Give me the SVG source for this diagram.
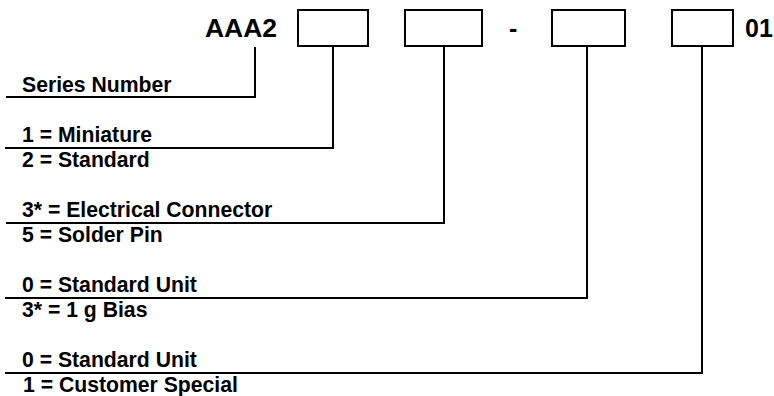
<svg xmlns="http://www.w3.org/2000/svg" width="774" height="396" viewBox="0 0 774 396">
<style>
.t{font-family:"Liberation Sans",Arial,sans-serif;font-weight:bold;fill:#000;}
.big{font-size:25px;}
.lbl{font-size:21.2px;}
.box{fill:none;stroke:#000;stroke-width:2;}
.con{fill:none;stroke:#000;stroke-width:2;stroke-linejoin:miter;stroke-linecap:square;}
</style>
<rect width="774" height="396" fill="#fff"/>
<g id="code">
<text class="t big" x="205" y="37" textLength="72" lengthAdjust="spacingAndGlyphs">AAA2</text>
<g id="box1"><rect class="box" x="298" y="10" width="70" height="36"/></g>
<g id="box2"><rect class="box" x="405" y="10" width="77" height="36"/></g>
<text class="t big" x="509" y="37">-</text>
<g id="box3"><rect class="box" x="552" y="10" width="73" height="36"/></g>
<g id="box4"><rect class="box" x="672" y="10" width="61" height="36"/></g>
<text class="t big" x="745" y="37">01</text>
</g>
<g id="connectors">
<polyline class="con" points="255,48 255,97 7,97"/>
<polyline class="con" points="333,48 333,148 6,148"/>
<polyline class="con" points="444,48 444,223 7,223"/>
<polyline class="con" points="587,48 587,298 6,298"/>
<polyline class="con" points="702,48 702,373 6,373"/>
</g>
<g id="series"><text class="t lbl" x="22" y="92">Series Number</text></g>
<g id="size">
<text class="t lbl" x="22" y="142">1 = Miniature</text>
<text class="t lbl" x="22" y="167">2 = Standard</text>
</g>
<g id="termination">
<text class="t lbl" x="22" y="217">3* = Electrical Connector</text>
<text class="t lbl" x="22" y="242">5 = Solder Pin</text>
</g>
<g id="bias">
<text class="t lbl" x="22" y="292">0 = Standard Unit</text>
<text class="t lbl" x="22" y="317">3* = 1 g Bias</text>
</g>
<g id="special">
<text class="t lbl" x="22" y="367">0 = Standard Unit</text>
<text class="t lbl" x="23" y="392">1 = Customer Special</text>
</g>
</svg>
